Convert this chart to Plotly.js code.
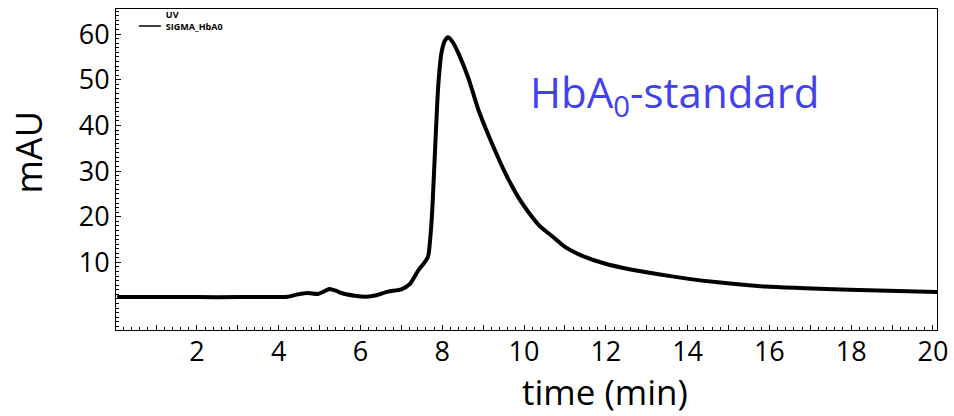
<!DOCTYPE html>
<html>
<head>
<meta charset="utf-8">
<script src="https://cdn.plot.ly/plotly-3.0.1.min.js"></script>
<style>
html,body{margin:0;padding:0;background:#fff;}
#chart{width:954px;height:416px;}
</style>
</head>
<body>
<div id="chart"></div>
<script>
// retention time (min)
const timeMin = [0.05, 1, 2, 3, 4, 4.22, 4.47, 4.71, 4.96, 5.1, 5.24, 5.4, 5.53, 5.86, 6.14, 6.39, 6.67, 7.0, 7.21, 7.41, 7.55, 7.65, 7.74, 7.82, 7.90, 7.98, 8.06, 8.14, 8.25, 8.39, 8.64, 8.88, 9.1, 9.29, 9.5, 9.7, 9.9, 10.11, 10.35, 10.51, 10.68, 11.0, 11.41, 11.99, 12.64, 13.29, 14.03, 14.68, 15.9, 17.95, 20.1];
// UV absorbance (mAU)
const absorbance = [2.4, 2.4, 2.4, 2.4, 2.45, 2.5, 3.0, 3.3, 3.1, 3.6, 4.2, 3.8, 3.3, 2.7, 2.5, 2.8, 3.6, 4.1, 5.3, 8.2, 9.8, 11.2, 19.2, 33.9, 48.5, 55.9, 58.5, 59.3, 58.3, 55.9, 50.3, 43.5, 38.5, 34.5, 30.3, 26.8, 23.7, 21.0, 18.3, 17.0, 15.8, 13.4, 11.5, 9.7, 8.4, 7.4, 6.4, 5.7, 4.7, 4.0, 3.5];

// axis ticks: x major tick every minute, label every second tick
const xTickStart = 0;
const xTickStep = 1;
const xLabelStep = 2;
const yTickVals = [10, 20, 30, 40, 50, 60];

const seriesName = 'UV<br>SIGMA_HbA0';
const xTitle = 'time (min)';
const yTitle = 'mAU';
const annotationText = 'HbA<sub>0</sub>-standard';

const trace = {
  x: timeMin,
  y: absorbance,
  type: 'scatter',
  mode: 'lines',
  name: seriesName,
  line: {color: '#000', width: 4, shape: 'spline', smoothing: 0.6}
};

const font = '"Open Sans", Lato, sans-serif';

const layout = {
  width: 954,
  height: 416,
  margin: {l: 116, r: 17, t: 9, b: 86, autoexpand: false},
  paper_bgcolor: '#fff',
  plot_bgcolor: '#fff',
  font: {family: font, color: '#000'},
  showlegend: true,
  legend: {
    x: 0.012, y: 1.022, xanchor: 'left', yanchor: 'top',
    font: {size: 9, family: font, weight: 'bold'},
    bgcolor: 'rgba(0,0,0,0)',
    valign: 'bottom',
    itemwidth: 30
  },
  xaxis: {
    range: [0.02, 20.1],
    tickmode: 'linear',
    tick0: xTickStart,
    dtick: xTickStep,
    ticklabelstep: xLabelStep,
    ticklabelstandoff: -2,
    ticks: 'inside',
    ticklen: 5,
    tickcolor: '#000',
    showline: true,
    linecolor: '#000',
    linewidth: 1,
    mirror: true,
    showgrid: false,
    zeroline: false,
    showticklabels: true,
    tickfont: {size: 27, family: font},
    minor: {dtick: 0.2, ticks: 'inside', ticklen: 3, tickcolor: '#000', showgrid: false}
  },
  yaxis: {
    range: [-4.8, 65.5],
    tickmode: 'array',
    tickvals: yTickVals,
    ticks: 'inside',
    ticklen: 5,
    tickcolor: '#000',
    showline: true,
    linecolor: '#000',
    linewidth: 1,
    mirror: true,
    showgrid: false,
    zeroline: false,
    tickfont: {size: 27, family: font},
    minor: {dtick: 1, tick0: 0, ticks: 'inside', ticklen: 3, tickcolor: '#000', showgrid: false}
  },
  annotations: [
    {
      x: 0.502, y: 0.733, xref: 'paper', yref: 'paper',
      xanchor: 'left', yanchor: 'middle',
      text: annotationText, showarrow: false,
      font: {size: 42, family: font, color: '#4141f2'}
    },
    {
      x: 0.596, y: -0.271, xref: 'paper', yref: 'paper',
      xanchor: 'center', yanchor: 'bottom',
      text: xTitle, showarrow: false,
      font: {size: 35, family: font, color: '#000'}
    },
    {
      x: -0.106, y: 0.553, xref: 'paper', yref: 'paper',
      xanchor: 'center', yanchor: 'middle', textangle: -90,
      text: yTitle, showarrow: false,
      font: {size: 36, family: font, color: '#000'}
    }
  ]
};

Plotly.newPlot('chart', [trace], layout, {staticPlot: true, displayModeBar: false}).then(function () {
  document.querySelectorAll('.legend .js-line').forEach(function (p) {
    p.setAttribute('d', 'M13,0h22');
    p.style.strokeWidth = '1.5px';
  });
});
</script>
</body>
</html>
